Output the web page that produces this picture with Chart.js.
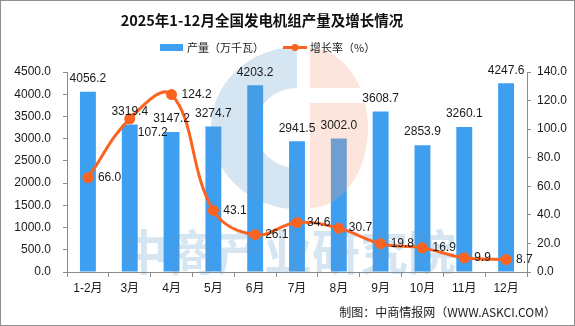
<!DOCTYPE html>
<html>
<head>
<meta charset="utf-8">
<script src="https://cdn.jsdelivr.net/npm/chart.js@4.4.1/dist/chart.umd.min.js"></script>
<style>
html,body{margin:0;padding:0;background:#fff;}
#wrap{width:575px;height:326px;position:relative;}
</style>
</head>
<body>
<div id="wrap"><canvas id="c" width="575" height="326"></canvas></div>
<script>
const categories = ['1-2月','3月','4月','5月','6月','7月','8月','9月','10月','11月','12月'];
const output = [4056.2, 3319.4, 3147.2, 3274.7, 4203.2, 2941.5, 3002.0, 3608.7, 2853.9, 3260.1, 4247.6];
const growth = [66.0, 107.2, 124.2, 43.1, 26.1, 34.6, 30.7, 19.8, 16.9, 9.9, 8.7];
const seriesNames = ['产量（万千瓦）', '增长率（%）'];
const titleText = '2025年1-12月全国发电机组产量及增长情况';
const sourceText = '制图：中商情报网（WWW.ASKCI.COM）';

const BAR = '#3e9ef0';
const LINE = '#fa6420';
const AXIS = '#8c8c8c';
const NUMFONT = '12px "Liberation Sans", "Noto Sans CJK SC", sans-serif';

const decorPlugin = {
  id: 'decor',
  beforeDraw(chart) {
    const ctx = chart.ctx;
    ctx.save();
    ctx.fillStyle = '#fff';
    ctx.fillRect(0, 0, chart.width, chart.height);
    ctx.restore();
  },
  afterDatasetDraw(chart, args) {
    if (args.index !== 0) return;
    const ctx = chart.ctx;
    ctx.save();
    // watermark logo: blue left half ring
    ctx.globalAlpha = 0.26;
    ctx.fillStyle = '#5d9cc8';
    ctx.beginPath();
    ctx.ellipse(297, 128, 86, 81, 0, -Math.PI / 2, Math.PI / 2, true);
    ctx.ellipse(297, 128, 42, 40, 0, Math.PI / 2, -Math.PI / 2, false);
    ctx.closePath();
    ctx.fill();
    // salmon right half disc with a white band
    ctx.save();
    ctx.beginPath();
    ctx.rect(310, 0, 120, 88);
    ctx.rect(310, 103, 120, 200);
    ctx.clip();
    ctx.globalAlpha = 0.28;
    ctx.fillStyle = '#f0a080';
    ctx.beginPath();
    ctx.ellipse(310, 128, 58, 80, 0, -Math.PI / 2, Math.PI / 2, false);
    ctx.closePath();
    ctx.fill();
    ctx.restore();
    // watermark text
    ctx.globalAlpha = 0.26;
    ctx.fillStyle = '#5d9cc8';
    ctx.font = 'bold 48px "Noto Sans CJK SC", sans-serif';
    ctx.textBaseline = 'middle';
    ctx.textAlign = 'left';
    ctx.fillText('中商产业研究院', 120, 252);
    ctx.restore();
  },
  afterDraw(chart) {
    const ctx = chart.ctx;
    ctx.save();
    // value labels
    ctx.font = NUMFONT;
    ctx.fillStyle = '#1a1a1a';
    const barMeta = chart.getDatasetMeta(0);
    ctx.textAlign = 'center';
    ctx.textBaseline = 'middle';
    barMeta.data.forEach((el, i) => {
      ctx.fillText(output[i].toFixed(1), el.x, el.y - 13);
    });
    const lineMeta = chart.getDatasetMeta(1);
    ctx.textAlign = 'left';
    const shift = {1: [-2, 14]};
    lineMeta.data.forEach((el, i) => {
      const s = shift[i] || [0, 0];
      ctx.fillText(growth[i].toFixed(1), el.x + 10 + s[0], el.y + s[1]);
    });
    // title
    ctx.fillStyle = '#111';
    ctx.font = 'bold 14.5px "Noto Sans CJK SC", sans-serif';
    ctx.textAlign = 'center';
    ctx.fillText(titleText, 262, 20);
    // legend
    ctx.font = '11px "Noto Sans CJK SC", sans-serif';
    ctx.textAlign = 'left';
    ctx.fillStyle = BAR;
    ctx.fillRect(160, 44, 23, 7);
    ctx.fillStyle = '#222';
    ctx.fillText(seriesNames[0], 187, 47.5);
    ctx.strokeStyle = LINE;
    ctx.lineWidth = 3;
    ctx.beginPath();
    ctx.moveTo(283, 47.5);
    ctx.lineTo(307, 47.5);
    ctx.stroke();
    ctx.fillStyle = LINE;
    ctx.beginPath();
    ctx.arc(295, 47.5, 3.5, 0, Math.PI * 2);
    ctx.fill();
    ctx.fillStyle = '#222';
    ctx.fillText(seriesNames[1], 310, 47.5);
    // source
    ctx.font = '12px "Noto Sans CJK SC", sans-serif';
    ctx.textAlign = 'right';
    ctx.fillStyle = '#1a1a1a';
    ctx.fillText(sourceText, 556, 312);
    // border
    ctx.strokeStyle = '#8f8f8f';
    ctx.lineWidth = 1;
    ctx.strokeRect(0.5, 0.5, chart.width - 1, chart.height - 1);
    ctx.restore();
  }
};

new Chart(document.getElementById('c'), {
  type: 'bar',
  data: {
    labels: categories,
    datasets: [
      {
        type: 'bar',
        label: seriesNames[0],
        data: output,
        backgroundColor: BAR,
        yAxisID: 'y',
        categoryPercentage: 1,
        barPercentage: 0.38,
        order: 2
      },
      {
        type: 'line',
        label: seriesNames[1],
        data: growth,
        borderColor: LINE,
        backgroundColor: LINE,
        borderWidth: 3,
        pointRadius: 4,
        pointBackgroundColor: LINE,
        pointBorderColor: LINE,
        tension: 0.4,
        yAxisID: 'y1',
        order: 1
      }
    ]
  },
  options: {
    responsive: false,
    animation: false,
    devicePixelRatio: 1,
    layout: { padding: { top: 72, left: 0, right: 0, bottom: 0 } },
    plugins: { legend: { display: false }, title: { display: false }, tooltip: { enabled: false } },
    scales: {
      x: {
        offset: true,
        grid: { display: true, offset: true, drawOnChartArea: false, drawTicks: true, tickLength: 5, color: AXIS },
        border: { display: true, color: AXIS, width: 1 },
        ticks: { font: { family: '"Liberation Sans", "Noto Sans CJK SC", sans-serif', size: 12 }, color: '#1a1a1a', padding: 4, maxRotation: 0, autoSkip: false },
        afterFit(s) { s.height = 54; }
      },
      y: {
        position: 'left',
        min: 0, max: 4500,
        ticks: { stepSize: 500, callback: v => v.toFixed(1), font: { family: '"Liberation Sans", sans-serif', size: 12 }, color: '#1a1a1a', padding: 12 },
        grid: { display: true, drawOnChartArea: false, drawTicks: true, tickLength: 4, color: AXIS },
        border: { display: true, color: AXIS, width: 1 },
        afterFit(s) { s.width = 67; }
      },
      y1: {
        position: 'right',
        min: 0, max: 140,
        ticks: { stepSize: 20, callback: v => v.toFixed(1), font: { family: '"Liberation Sans", sans-serif', size: 12 }, color: '#1a1a1a', padding: 6 },
        grid: { display: true, drawOnChartArea: false, drawTicks: true, tickLength: 4, color: AXIS },
        border: { display: true, color: AXIS, width: 1 },
        afterFit(s) { s.width = 48; }
      }
    }
  },
  plugins: [decorPlugin]
});
</script>
</body>
</html>
